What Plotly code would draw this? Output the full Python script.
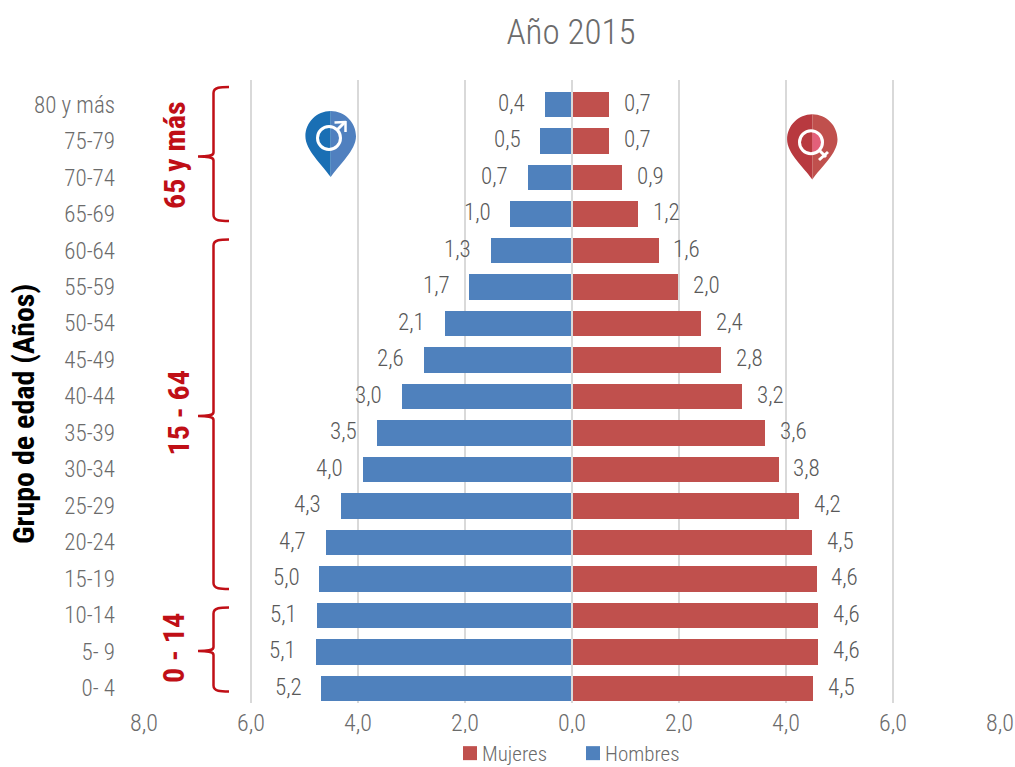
import plotly.graph_objects as go

age_groups = ["0- 4","5- 9","10-14","15-19","20-24","25-29","30-34","35-39","40-44","45-49","50-54","55-59","60-64","65-69","70-74","75-79","80 y más"]
male_bar = [4.69,4.79,4.77,4.72,4.60,4.32,3.91,3.65,3.18,2.77,2.38,1.92,1.52,1.15,0.83,0.59,0.51]
female_bar = [4.51,4.60,4.60,4.57,4.49,4.25,3.86,3.61,3.18,2.79,2.42,1.99,1.62,1.24,0.94,0.70,0.70]
male_labels = ["5,2","5,1","5,1","5,0","4,7","4,3","4,0","3,5","3,0","2,6","2,1","1,7","1,3","1,0","0,7","0,5","0,4"]
female_labels = ["4,5","4,6","4,6","4,6","4,5","4,2","3,8","3,6","3,2","2,8","2,4","2,0","1,6","1,2","0,9","0,7","0,7"]
x_ticks = [-8,-6,-4,-2,0,2,4,6,8]
x_tick_text = ["8,0","6,0","4,0","2,0","0,0","2,0","4,0","6,0","8,0"]

FONT = "Roboto Condensed"
GREY = "#6b6b6b"
LABEL = "#595959"
RED = "#c00f16"
W, H = 1015, 767
L, R, T, B = 144, 1000, 80, 703
XMIN, XMAX = -8, 8
YMIN, YMAX = -0.40, 16.67

def X(px):
    return XMIN + (px - L) / (R - L) * (XMAX - XMIN)
def Y(py):
    return YMIN + (B - py) / (B - T) * (YMAX - YMIN)
def P(px, py):
    return f"{X(px):.5f},{Y(py):.5f}"
def light(size, color):
    return dict(family=FONT, size=size, color=color, weight=300)

rows = list(range(len(age_groups)))
fig = go.Figure()
fig.add_bar(name="Mujeres", y=rows, x=female_bar, orientation="h", marker_color="#c0504d", marker_line_width=0, width=0.69)
fig.add_bar(name="Hombres", y=rows, x=[-v for v in male_bar], orientation="h", marker_color="#4f81bd", marker_line_width=0, width=0.69)

annotations = []
for r, v, t in zip(rows, male_bar, male_labels):
    annotations.append(dict(x=-v, y=r, xref="x", yref="y", text=t, showarrow=False, xshift=-33, yshift=1, xanchor="center", font=light(23, LABEL)))
for r, v, t in zip(rows, female_bar, female_labels):
    annotations.append(dict(x=v, y=r, xref="x", yref="y", text=t, showarrow=False, xshift=28, yshift=1, xanchor="center", font=light(23, LABEL)))

def brace_label(text, px, py):
    annotations.append(dict(x=X(px), y=Y(py), xref="x", yref="y", text=text, textangle=-90, showarrow=False,
                            font=dict(family=FONT, size=30, color=RED, weight=700)))
brace_label("65 y más", 174, 155)
brace_label("15 - 64", 178, 413.5)
brace_label("0 - 14", 173, 648)
annotations.append(dict(x=(23 - L) / (R - L), y=(B - 414) / (B - T), xref="paper", yref="paper", text="Grupo de edad (Años)",
                        xanchor="center", yanchor="middle", textangle=-90, showarrow=False,
                        font=dict(family=FONT, size=30, color="#000000", weight=700)))

shapes = []
shapes.append(dict(type="line", xref="x", yref="y", x0=0, x1=0, y0=YMIN, y1=YMAX, line=dict(color="#d9d9d9", width=2)))

def brace(top, bottom, tip):
    spine, tipx, endx = 213.5, 198, 229
    r = 6
    d = (f"M{P(endx, top)} C{P(endx-8, top)} {P(spine, top)} {P(spine, top+r)} "
         f"L{P(spine, tip-4)} C{P(spine, tip-1)} {P(spine-3, tip)} {P(tipx, tip)} "
         f"C{P(spine-3, tip)} {P(spine, tip+1)} {P(spine, tip+4)} "
         f"L{P(spine, bottom-r)} C{P(spine, bottom)} {P(endx-8, bottom)} {P(endx, bottom)}")
    shapes.append(dict(type="path", xref="x", yref="y", path=d, line=dict(color=RED, width=2.5), fillcolor="rgba(0,0,0,0)"))
brace(87, 221, 156.5)
brace(239.5, 589, 416)
brace(607.5, 691.5, 651)

def half_pin(cx, cy, rad, tip, side, color):
    k = 0.5523 * rad
    s = side
    d = (f"M{P(cx, cy-rad)} C{P(cx+s*k, cy-rad)} {P(cx+s*rad, cy-k)} {P(cx+s*rad, cy)} "
         f"C{P(cx+s*rad, cy+rad*0.55)} {P(cx+s*rad*0.35, tip-rad*0.5)} {P(cx, tip)} Z")
    shapes.append(dict(type="path", xref="x", yref="y", path=d, line_width=0, fillcolor=color))

def circle_path(cx, cy, rad):
    return dict(type="circle", xref="x", yref="y", x0=X(cx-rad), x1=X(cx+rad), y0=Y(cy+rad), y1=Y(cy-rad))

def seg(x0, y0, x1, y1, width=3):
    shapes.append(dict(type="line", xref="x", yref="y", x0=X(x0), y0=Y(y0), x1=X(x1), y1=Y(y1),
                       line=dict(color="#ffffff", width=width)))

# male pin
half_pin(330.7, 136.2, 25.3, 177, -1, "#1a6fb4")
half_pin(330.7, 136.2, 25.3, 177, 1, "#5080bf")
seg(337, 130, 345, 122)
seg(334.5, 122.5, 346, 122, 2.5)
seg(345.5, 121, 345.5, 132, 2.5)
shapes.append(dict(circle_path(329, 138, 11.5), line=dict(color="#ffffff", width=3), fillcolor="rgba(0,0,0,0)"))

# female pin
half_pin(812.3, 139.5, 25.2, 179.5, -1, "#b8393f")
half_pin(812.3, 139.5, 25.2, 179.5, 1, "#c0504d")
shapes.append(dict(type="path", xref="x", yref="y", line_width=0, fillcolor="#e3607a",
                   path=f"M{P(812.3, 132)} C{P(818, 133)} {P(822, 137)} {P(822, 142)} C{P(822, 147)} {P(818, 151)} {P(812.3, 152)} Z"))
shapes.append(dict(circle_path(811, 142.3, 11.5), line=dict(color="#ffffff", width=3), fillcolor="rgba(0,0,0,0)"))
seg(819.5, 150.5, 826, 157)
seg(819, 160, 828, 152)

fig.update_layout(
    width=W, height=H, autosize=False,
    margin=dict(l=L, r=W - R, t=T, b=H - B, pad=0, autoexpand=False),
    paper_bgcolor="#ffffff", plot_bgcolor="#ffffff",
    barmode="overlay",
    font=light(22, GREY),
    title=dict(text="Año 2015", x=571 / W, xanchor="center", y=1 - 32 / H, yanchor="middle", font=light(35, GREY)),
    xaxis=dict(range=[XMIN, XMAX], tickvals=x_ticks, ticktext=x_tick_text, showgrid=True, gridcolor="#d9d9d9", gridwidth=2,
               zeroline=False, showline=False, ticks="", tickfont=light(24, GREY), ticklabelstandoff=3),
    yaxis=dict(range=[YMIN, YMAX], tickvals=rows, ticktext=age_groups, showgrid=False, zeroline=False, showline=False,
               ticks="", tickfont=light(23, GREY), ticklabelstandoff=28),
    legend=dict(orientation="h", x=(450 - L) / (R - L), xanchor="left", y=-(733 - B) / (B - T), yanchor="top", traceorder="normal",
                entrywidth=78, entrywidthmode="pixels",
                font=light(21, GREY), itemclick=False, itemdoubleclick=False),
    annotations=annotations, shapes=shapes, bargap=0,
)
post = """
document.body.style.margin='0';document.body.style.overflow='hidden';
document.querySelectorAll('.legend .legendtext').forEach(t=>t.setAttribute('x','32'));
document.querySelectorAll('.legend .legendbar path, .legend .legendpoints path').forEach(p=>p.setAttribute('d','M7,7H-7V-7H7Z'));
"""
fig.write_html("out.html", config=dict(displayModeBar=False), post_script=post)
